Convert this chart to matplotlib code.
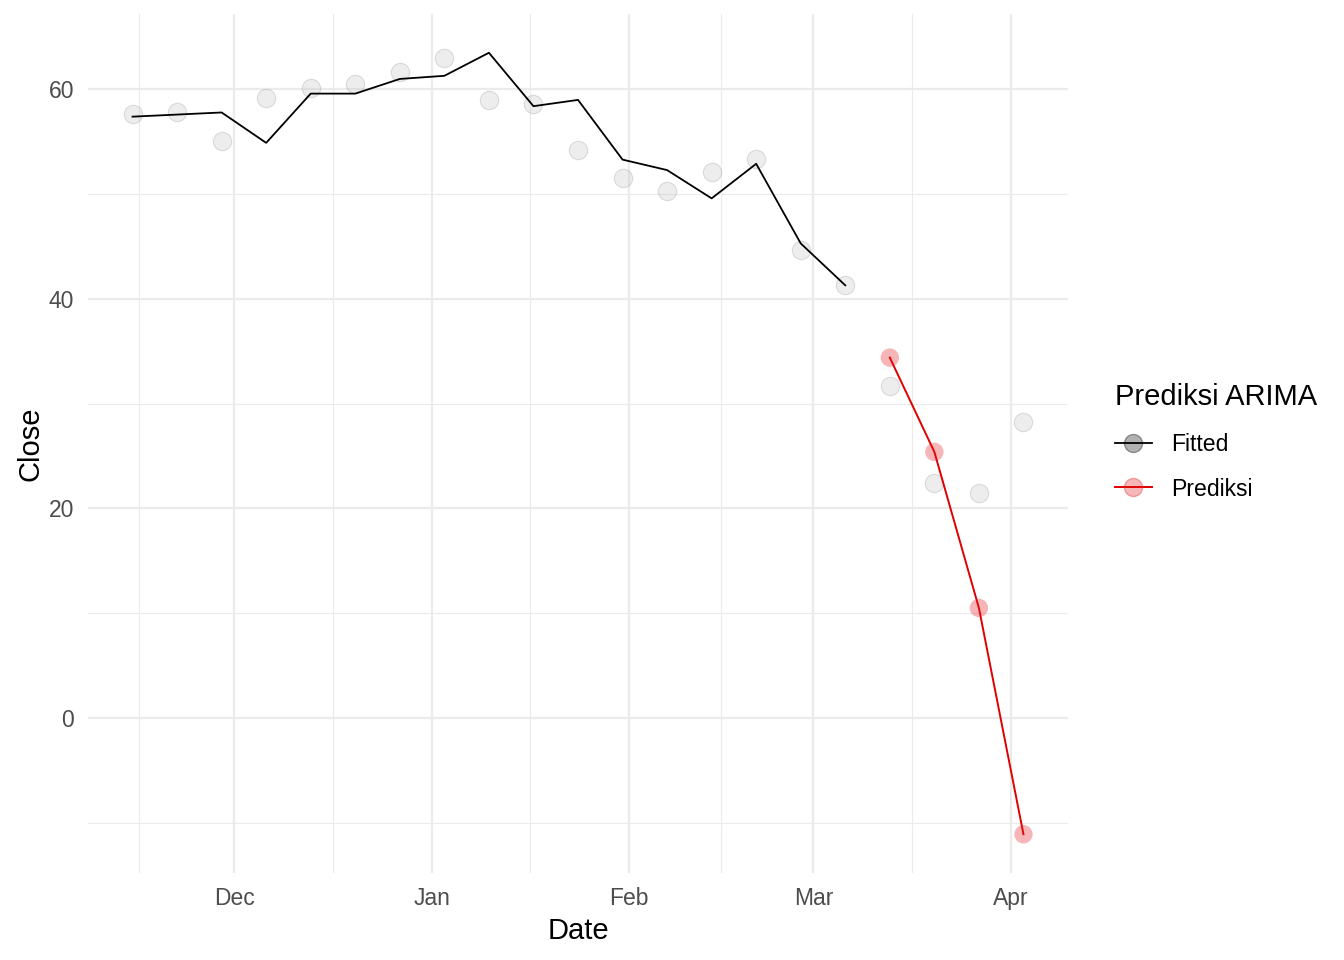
import matplotlib
matplotlib.use("Agg")
import matplotlib.pyplot as plt
import matplotlib.dates as mdates
import numpy as np
import datetime as dt
from matplotlib.lines import Line2D

plt.rcParams['font.family'] = ['Liberation Sans', 'DejaVu Sans']

start = dt.date(2023, 11, 15)
dates_actual = [start + dt.timedelta(weeks=i) for i in range(21)]
close_actual = [57.7, 57.8, 55.1, 59.2, 60.1, 60.5, 61.7, 63.0, 59.0, 58.6, 54.2,
                51.5, 50.3, 52.1, 53.4, 44.7, 41.3, 31.7, 22.4, 21.5, 28.3]
dates_fitted = dates_actual[:17]
close_fitted = [57.4, 57.6, 57.8, 54.9, 59.6, 59.6, 61.0, 61.3, 63.5, 58.4, 59.0,
                53.3, 52.3, 49.6, 52.9, 45.3, 41.3]
dates_pred = dates_actual[17:]
close_pred = [34.4, 25.4, 10.5, -11.1]

x_ticks = [dt.date(2023, 12, 1), dt.date(2024, 1, 1), dt.date(2024, 2, 1),
           dt.date(2024, 3, 1), dt.date(2024, 4, 1)]
x_labels = ["Dec", "Jan", "Feb", "Mar", "Apr"]
y_ticks = [0, 20, 40, 60]
y_minor = [-10, 10, 30, 50]

fig = plt.figure(figsize=(13.44, 9.6), dpi=100)
W, H = 1344, 960
ax = fig.add_axes([88 / W, 1 - 873 / H, (1068 - 88) / W, (873 - 14) / H])

ax.scatter(dates_actual, close_actual, s=175, color='#c4c4c4', alpha=0.3,
           edgecolors=(0.6, 0.6, 0.6, 0.1), linewidths=0.8, zorder=2)
ax.plot(dates_fitted, close_fitted, color='black', lw=1.3, zorder=3)
ax.plot(dates_pred, close_pred, color='#e00000', lw=1.4, zorder=3)
ax.scatter(dates_pred, close_pred, s=175, color='#e31a1c', alpha=0.32,
           edgecolors='none', zorder=4)

xmin = mdates.date2num(dates_actual[0]) - 7
xmax = mdates.date2num(dates_actual[-1]) + 7
ax.set_xlim(xmin, xmax)
ax.set_ylim(-14.8, 67.2)

major_nums = [mdates.date2num(d) for d in [dt.date(2023, 11, 1)] + x_ticks]
minor_nums = [(a + b) / 2 for a, b in zip(major_nums[:-1], major_nums[1:])]
ax.set_xticks(major_nums[1:])
ax.set_xticklabels(x_labels)
ax.set_xticks(minor_nums, minor=True)
ax.set_yticks(y_ticks)
ax.set_yticks(y_minor, minor=True)

ax.grid(True, which='major', color='#ebebeb', lw=1.6)
ax.grid(True, which='minor', color='#ebebeb', lw=0.8)
ax.set_axisbelow(True)
for s in ax.spines.values():
    s.set_visible(False)
ax.tick_params(which='both', length=0)
ax.tick_params(axis='both', labelsize=16.5, labelcolor='#4d4d4d')
ax.tick_params(axis='x', pad=10)
ax.tick_params(axis='y', pad=10)

ax.set_xlabel("Date", fontsize=21, labelpad=5)
ax.set_ylabel("Close", fontsize=21, labelpad=3)

handles = [
    Line2D([0], [0], color='black', lw=1.3, marker='o', markersize=13,
           markerfacecolor=(0, 0, 0, 0.3), markeredgecolor=(0, 0, 0, 0.35)),
    Line2D([0], [0], color='#e00000', lw=1.4, marker='o', markersize=13,
           markerfacecolor=(0.89, 0.1, 0.11, 0.3), markeredgecolor=(0.89, 0.1, 0.11, 0.35)),
]
leg = fig.legend(handles, ["Fitted", "Prediksi"], title="Prediksi ARIMA",
                 loc='upper left', bbox_to_anchor=(1094 / W, 1 - 362 / H),
                 frameon=False, fontsize=16.6, title_fontsize=21,
                 handlelength=1.6, labelspacing=0.95, handletextpad=0.85)
leg._legend_box.align = "left"

fig.savefig("out.png", dpi=100)
